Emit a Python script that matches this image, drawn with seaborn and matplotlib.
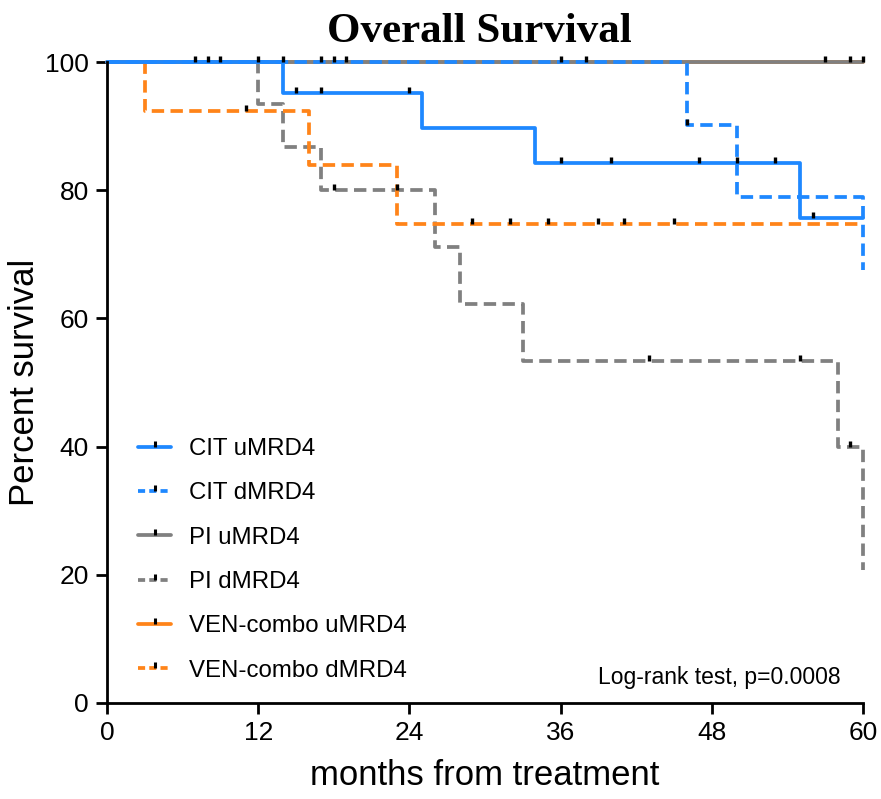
import numpy as np
import pandas as pd
import matplotlib
matplotlib.use("Agg")
import matplotlib.pyplot as plt
from matplotlib.path import Path
from matplotlib.lines import Line2D
import seaborn as sns

# ---------------- data ----------------
series_names = ["CIT uMRD4", "CIT dMRD4", "PI uMRD4", "PI dMRD4",
                "VEN-combo uMRD4", "VEN-combo dMRD4"]

cit_u_time = [0, 14, 25, 34, 55, 60]
cit_u_surv = [100, 95.2, 89.7, 84.2, 75.7, 75.7]
cit_u_cens = [15, 17, 24, 36, 40, 47, 50, 53, 56]

cit_d_time = [0, 46, 50, 60]
cit_d_surv = [100, 90.2, 78.9, 67.5]
cit_d_cens = [36, 38, 46]

pi_u_time = [0, 60]
pi_u_surv = [100, 100]
pi_u_cens = [57, 59, 60]

pi_d_time = [0, 12, 14, 17, 26, 28, 33, 58, 60]
pi_d_surv = [100, 93.4, 86.7, 80.0, 71.1, 62.2, 53.4, 40.0, 20.8]
pi_d_cens = [18, 23, 43, 55, 59]

ven_u_time = [0, 60]
ven_u_surv = [100, 100]
ven_u_cens = [7, 8, 9, 12, 14, 17, 18, 19]

ven_d_time = [0, 3, 16, 23, 60]
ven_d_surv = [100, 92.3, 83.9, 74.7, 74.7]
ven_d_cens = [11, 29, 32, 35, 39, 41, 45]

x_ticks = [0, 12, 24, 36, 48, 60]
y_ticks = [0, 20, 40, 60, 80, 100]

# ---------------- styles ----------------
BLUE = "#1E88FF"
GREY = "#808080"
ORANGE = "#FF8419"
styles = {
    "CIT uMRD4": dict(color=BLUE, dashed=False),
    "CIT dMRD4": dict(color=BLUE, dashed=True),
    "PI uMRD4": dict(color=GREY, dashed=False),
    "PI dMRD4": dict(color=GREY, dashed=True),
    "VEN-combo uMRD4": dict(color=ORANGE, dashed=False),
    "VEN-combo dMRD4": dict(color=ORANGE, dashed=True),
}
data = {
    "CIT uMRD4": (cit_u_time, cit_u_surv, cit_u_cens),
    "CIT dMRD4": (cit_d_time, cit_d_surv, cit_d_cens),
    "PI uMRD4": (pi_u_time, pi_u_surv, pi_u_cens),
    "PI dMRD4": (pi_d_time, pi_d_surv, pi_d_cens),
    "VEN-combo uMRD4": (ven_u_time, ven_u_surv, ven_u_cens),
    "VEN-combo dMRD4": (ven_d_time, ven_d_surv, ven_d_cens),
}
draw_order = ["VEN-combo uMRD4", "PI uMRD4", "PI dMRD4", "VEN-combo dMRD4",
              "CIT dMRD4", "CIT uMRD4"]

sns.set_theme(style="ticks")
plt.rcParams["font.family"] = ["Liberation Sans", "DejaVu Sans"]
plt.rcParams["text.color"] = "black"

fig = plt.figure(figsize=(8.81, 7.99), dpi=100)
ax = fig.add_axes([107 / 881, 1 - 703 / 799, (863 - 107) / 881, (703 - 62) / 799])

LW = 2.7
DASH = (3.3, 1.7)
tick_path = Path([(0, 0), (0, 1)], [Path.MOVETO, Path.LINETO])


def surv_at(t, times, surv):
    i = np.searchsorted(times, t, side="right") - 1
    return surv[max(i, 0)]


for name in draw_order:
    t, s, c = data[name]
    st = styles[name]
    df = pd.DataFrame({"months": t, "survival": s})
    sns.lineplot(data=df, x="months", y="survival", ax=ax, estimator=None,
                 sort=False, drawstyle="steps-post", color=st["color"],
                 linewidth=LW, clip_on=False,
                 linestyle=(0, DASH) if st["dashed"] else "-")

for name in draw_order:
    t, s, c = data[name]
    cdf = pd.DataFrame({"months": c,
                        "survival": [surv_at(x, t, s) for x in c]})
    sns.scatterplot(data=cdf, x="months", y="survival", ax=ax,
                    marker=tick_path, s=85, color="black",
                    edgecolor="black", linewidth=2.4, clip_on=False,
                    zorder=10)

ax.set_xlim(0, 60)
ax.set_ylim(0, 100)
ax.set_xticks(x_ticks)
ax.set_yticks(y_ticks)
ax.tick_params(axis="both", labelsize=19, width=2, length=8, color="black",
               labelcolor="black", direction="out", pad=5)
for sp in ["left", "bottom"]:
    ax.spines[sp].set_linewidth(2)
    ax.spines[sp].set_color("black")
sns.despine(ax=ax)

ax.set_xlabel("months from treatment", fontsize=25, labelpad=10, color="black")
ax.set_ylabel("Percent survival", fontsize=25, labelpad=3, color="black")

fig.text(0.5 * (107 + 863) / 881 - 0.006, 1 - 32 / 799, "Overall Survival",
         ha="center", va="center", fontsize=31, fontweight="bold",
         family=["Liberation Serif", "DejaVu Serif"], color="black")

handles = []
for name in series_names:
    st = styles[name]
    handles.append(Line2D([0], [0], color=st["color"], linewidth=LW,
                          linestyle=(0, (1.9, 1.1)) if st["dashed"] else "-",
                          marker=tick_path, markersize=9,
                          markeredgecolor="black", markeredgewidth=2.2))
leg = ax.legend(handles, series_names, loc="upper left",
                bbox_to_anchor=(0.012, 0.447), frameon=False, fontsize=17.3,
                handlelength=1.4, handletextpad=0.75, labelspacing=0.93,
                numpoints=1, labelcolor="black")

ax.text(0.97, 0.04, "Log-rank test, p=0.0008", transform=ax.transAxes,
        ha="right", va="center", fontsize=16.5, color="black")

fig.savefig("out.png", dpi=100)
